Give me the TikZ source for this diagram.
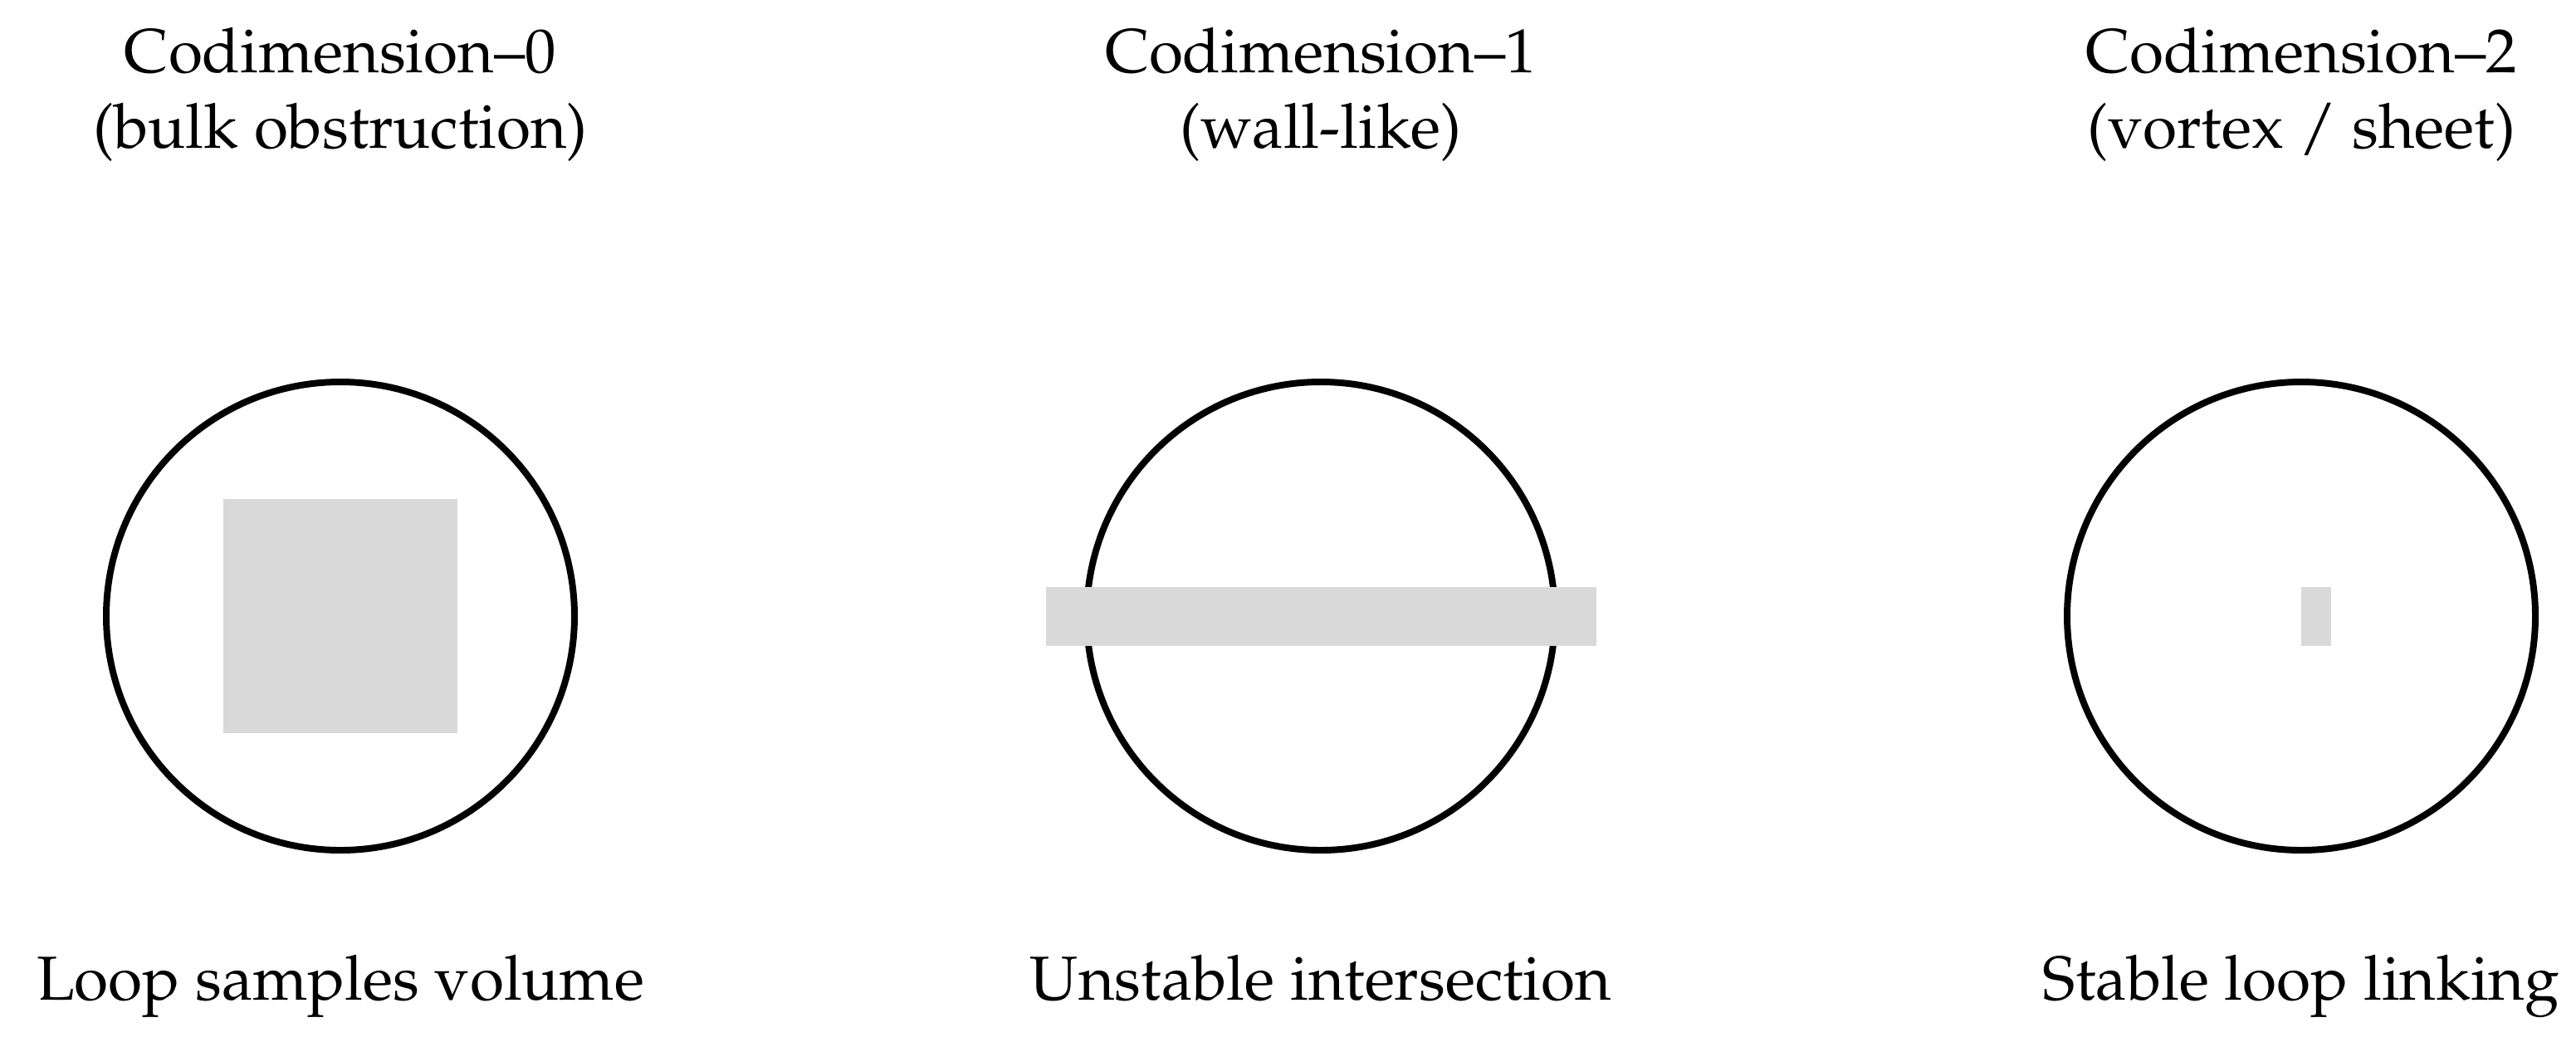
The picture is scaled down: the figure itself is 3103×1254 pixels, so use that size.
\documentclass[tikz,border=0pt]{standalone}
\usepackage[T1]{fontenc}
\usepackage{mathpazo}
\begin{document}
\begin{tikzpicture}[x=0.13193pt,y=-0.13193pt,
  ring/.style={draw=black,line width=1.05pt},
  obst/.style={fill=gray!30,draw=none},
  lbl/.style={font=\fontsize{9.88}{12}\selectfont,inner sep=0pt,anchor=base}]
\useasboundingbox (0,0) rectangle (3103,1254);
% column 0
\node[lbl] (t0a) at (410,87) {Codimension--0};
\node[lbl] (t0b) at (410,178) {(bulk obstruction)};
\draw[ring] (410,742) circle[radius=282];
\fill[obst] (269,601) rectangle (551,883);
\node[lbl] (b0) at (410,1204) {Loop samples volume};
% column 1
\node[lbl] (t1a) at (1591,87) {Codimension--1};
\node[lbl] (t1b) at (1591,178) {(wall-like)};
\draw[ring] (1591,742) circle[radius=282];
\fill[obst] (1260,707) rectangle (1923,778);
\node[lbl] (b1) at (1591,1204) {Unstable intersection};
% column 2
\node[lbl] (t2a) at (2772,87) {Codimension--2};
\node[lbl] (t2b) at (2772,178) {(vortex / sheet)};
\draw[ring] (2772,742) circle[radius=282];
\fill[obst] (2772,707) rectangle (2808,778);
\node[lbl] (b2) at (2772,1204) {Stable loop linking};
\end{tikzpicture}
\end{document}
